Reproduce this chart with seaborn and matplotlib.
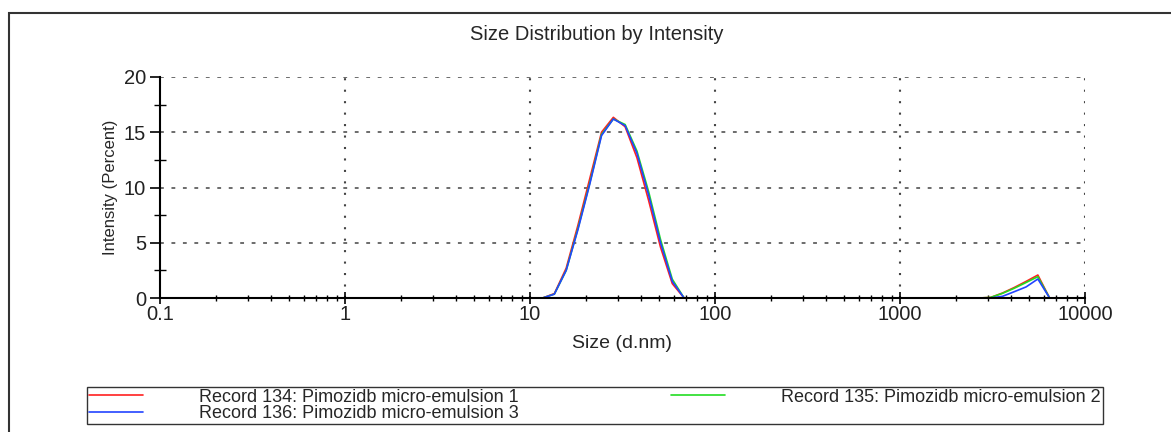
import numpy as np
import pandas as pd
import seaborn as sns
import matplotlib
matplotlib.use('Agg')
from matplotlib import pyplot as plt
from matplotlib.lines import Line2D
from matplotlib.patches import Rectangle
from matplotlib.ticker import FixedLocator, FuncFormatter, LogLocator, MultipleLocator

# size classes (d.nm)
sizes = [0.4, 0.4632, 0.5365, 0.6213, 0.7195, 0.8332, 0.9649, 1.117, 1.294, 1.499,
         1.736, 2.01, 2.328, 2.696, 3.122, 3.615, 4.187, 4.849, 5.615, 6.503,
         7.531, 8.721, 10.1, 11.7, 13.54, 15.69, 18.17, 21.04, 24.36, 28.21,
         32.67, 37.84, 43.82, 50.75, 58.77, 68.06, 78.82, 91.28, 105.7, 122.4,
         141.8, 164.2, 190.1, 220.2, 255.0, 295.3, 342.0, 396.1, 458.7, 531.2,
         615.1, 712.4, 825.0, 955.4, 1106, 1281, 1484, 1718, 1990, 2305,
         2669, 3091, 3580, 4145, 4801, 5560, 6439, 7456, 8635, 10000]

# intensity (%) for each record
rec134 = [0] * 24 + [0.4, 2.7, 6.6, 10.8, 15.0, 16.35, 15.5, 12.7, 8.8, 4.6, 1.3] + [0] * 26 \
    + [0.05, 0.45, 0.95, 1.5, 2.08] + [0] * 4
rec135 = [0] * 24 + [0.35, 2.5, 6.3, 10.4, 14.8, 16.2, 15.7, 13.3, 9.6, 5.3, 1.7] + [0] * 26 \
    + [0.05, 0.42, 0.88, 1.4, 1.93] + [0] * 4
rec136 = [0] * 24 + [0.35, 2.5, 6.2, 10.3, 14.7, 16.2, 15.6, 13.1, 9.3, 5.0, 1.5] + [0] * 26 \
    + [0.0, 0.15, 0.57, 1.0, 1.72] + [0] * 4

labels = ['Record 134: Pimozidb micro-emulsion 1',
          'Record 135: Pimozidb micro-emulsion 2',
          'Record 136: Pimozidb micro-emulsion 3']
colors = ['#ff2020', '#22dd22', '#2244ff']

df = pd.concat([
    pd.DataFrame({'size': sizes, 'intensity': vals, 'record': lab})
    for vals, lab in zip([rec134, rec135, rec136], labels)
])

sns.set_theme(style='white')
plt.rcParams['font.family'] = ['Liberation Sans', 'DejaVu Sans']

fig = plt.figure(figsize=(11.71, 4.32), dpi=100)
ax = fig.add_axes([160 / 1171, 1 - 298 / 432, 925 / 1171, 221 / 432])

sns.lineplot(data=df, x='size', y='intensity', hue='record', hue_order=labels,
             palette=colors, estimator=None, linewidth=1.2, legend=False, ax=ax)

ax.set_xscale('log')
ax.set_xlim(0.1, 10000)
ax.set_ylim(0, 20)
ax.xaxis.set_major_locator(FixedLocator([0.1, 1, 10, 100, 1000, 10000]))
ax.xaxis.set_major_formatter(FuncFormatter(lambda v, p: f'{v:g}'))
ax.xaxis.set_minor_locator(LogLocator(base=10, subs=np.arange(2, 10), numticks=20))
ax.yaxis.set_major_locator(MultipleLocator(5))
ax.yaxis.set_minor_locator(MultipleLocator(2.5))

for s in ['top', 'right']:
    ax.spines[s].set_visible(False)
for s in ['left', 'bottom']:
    ax.spines[s].set_color('black')
    ax.spines[s].set_linewidth(1.5)

ax.tick_params(axis='x', which='major', direction='inout', length=8, width=1.2,
               labelsize=14.5, pad=1, bottom=True, colors='black')
ax.tick_params(axis='x', which='minor', direction='inout', length=5, width=1,
               bottom=True, colors='black')
ax.tick_params(axis='y', which='major', direction='out', length=7, width=1.2,
               labelsize=14.5, pad=3, left=True, colors='black')
ax.tick_params(axis='y', which='minor', direction='inout', length=8, width=1,
               left=True, colors='black')
for lab in ax.get_xticklabels() + ax.get_yticklabels():
    lab.set_color('#222222')

for yv in [5, 10, 15, 20]:
    ax.axhline(yv, color='#444444', lw=1.1, ls=(0, (2.5, 5)), zorder=0)
for xv in [1, 10, 100, 1000, 10000]:
    ax.axvline(xv, color='#444444', lw=1.5, ls=(0, (1, 4.5)), zorder=0)

ax.set_xlabel('Size (d.nm)', fontsize=14, labelpad=8)
ax.set_ylabel('Intensity (Percent)', fontsize=12, labelpad=4)
fig.text(597 / 1171, 1 - 35 / 432, 'Size Distribution by Intensity',
         ha='center', va='center', fontsize=14.5)

handles = [Line2D([], [], color=colors[0], lw=1.2),
           Line2D([], [], color=colors[2], lw=1.2),
           Line2D([], [], color=colors[1], lw=1.2)]
leg = fig.legend(handles, [labels[0], labels[2], labels[1]], ncol=2,
                 loc='lower left', mode='expand',
                 bbox_to_anchor=(87 / 1171, 1 - 424 / 432, 1016 / 1171, 33 / 432),
                 borderaxespad=0, fontsize=13, frameon=True, fancybox=False,
                 handlelength=3.0, handletextpad=3.1, borderpad=0.12,
                 labelspacing=-0.05, columnspacing=2)
leg.get_frame().set_edgecolor('black')
leg.get_frame().set_linewidth(1.0)

fig.add_artist(Rectangle((9 / 1171, -0.1), 1.2, (432 - 13) / 432 + 0.1,
                         transform=fig.transFigure, fill=False,
                         edgecolor='#333333', lw=1.5))

fig.savefig('out.png', dpi=100)
